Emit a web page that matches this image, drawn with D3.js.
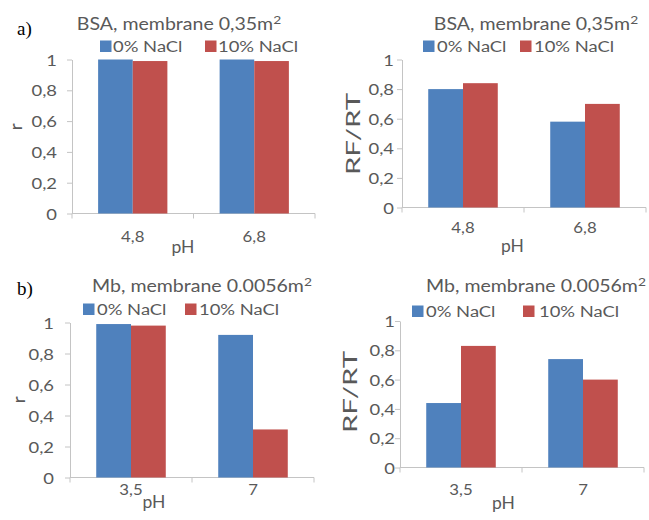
<!DOCTYPE html>
<html><head><meta charset="utf-8">
<script src="https://cdnjs.cloudflare.com/ajax/libs/d3/7.8.5/d3.min.js"></script>
<style>
body{margin:0;background:#fff;}
svg{display:block;}
text{font-family:Lato,"Open Sans",sans-serif;fill:#595959;}
</style></head>
<body>
<svg id="chart" width="649" height="520"></svg>
<script>
// ---------- data ----------
const seriesNames = ["0% NaCl", "10% NaCl"];
const categoriesA = ["4,8", "6,8"];
const categoriesB = ["3,5", "7"];
const yTicks = [0, 0.2, 0.4, 0.6, 0.8, 1];
const yTickLabels = ["0", "0,2", "0,4", "0,6", "0,8", "1"];

const rA_0 = [1.0, 1.0];
const rA_10 = [0.99, 0.99];
const rfA_0 = [0.80, 0.58];
const rfA_10 = [0.84, 0.70];
const rB_0 = [0.99, 0.92];
const rB_10 = [0.98, 0.31];
const rfB_0 = [0.44, 0.74];
const rfB_10 = [0.83, 0.60];

const titleA = "BSA, membrane 0,35m";
const titleB = "Mb, membrane 0.0056m";
const colors = ["#4F81BD", "#C0504D"];

// ---------- layout ----------
const panels = [
  {cats: categoriesA, s0: rA_0, s1: rA_10, title: titleA, ylab: "r",
   x0: 72, x1: 315, yb: 213.5, yt: 59.5, tickRight: 57,
   titleX: 179, titleY: 30, legY: 52, leg: [[100, 113], [205, 218]],
   catY: 242, phX: 183, phY: 253, ylabX: 22, ylabY: 127},
  {cats: categoriesA, s0: rfA_0, s1: rfA_10, title: titleA, ylab: "RF/RT",
   x0: 402, x1: 646, yb: 207.5, yt: 59.5, tickRight: 394,
   titleX: 536, titleY: 30, legY: 52, leg: [[423, 437], [520, 534]],
   catY: 233, phX: 512.5, phY: 252, ylabX: 360, ylabY: 134},
  {cats: categoriesB, s0: rB_0, s1: rB_10, title: titleB, ylab: "r",
   x0: 70, x1: 314, yb: 477.5, yt: 322.5, tickRight: 54,
   titleX: 202, titleY: 292, legY: 315, leg: [[83, 97], [185, 199]],
   catY: 495, phX: 154, phY: 508, ylabX: 25, ylabY: 400},
  {cats: categoriesB, s0: rfB_0, s1: rfB_10, title: titleB, ylab: "RF/RT",
   x0: 400, x1: 644, yb: 467.5, yt: 321, tickRight: 395,
   titleX: 536, titleY: 292, legY: 317, leg: [[412, 426], [523, 539]],
   catY: 495, phX: 503.5, phY: 509, ylabX: 357, ylabY: 392}
];

const svg = d3.select("#chart");

function txt(g, x, y, s, size, anchor, sx, rot) {
  return g.append("text")
    .attr("transform", `translate(${x},${y})${rot ? " rotate(" + rot + ")" : ""} scale(${sx},1)`)
    .attr("text-anchor", anchor).style("font-size", size + "px").text(s);
}

panels.forEach(p => {
  const g = svg.append("g");
  const x = d3.scaleBand().domain(p.cats).range([p.x0, p.x1]).paddingInner(0.43).paddingOuter(0.215);
  const xs = d3.scaleBand().domain([0, 1]).range([0, x.bandwidth()]);
  const y = d3.scaleLinear().domain([0, 1]).range([p.yb, p.yt]);

  // y axis
  const yAxis = d3.axisLeft(y).tickValues(yTicks).tickFormat((d, i) => yTickLabels[i])
    .tickSize(5).tickSizeOuter(0);
  const ya = g.append("g").attr("transform", `translate(${p.x0},0)`).call(yAxis);
  ya.select(".domain").attr("stroke", "#c4c4c4");
  ya.selectAll(".tick line").attr("stroke", "#c4c4c4");
  ya.selectAll(".tick text")
    .attr("x", null).attr("dy", null)
    .attr("transform", `translate(${p.tickRight - p.x0},5.5) scale(1.15,1)`)
    .style("font-family", "Lato").style("font-size", "16px").attr("fill", "#595959");

  // x axis line with boundary ticks
  const bounds = d3.range(p.cats.length + 1).map(i => p.x0 + i * (p.x1 - p.x0) / p.cats.length);
  g.append("line").attr("x1", p.x0).attr("x2", p.x1).attr("y1", y(0)).attr("y2", y(0)).attr("stroke", "#c4c4c4");
  g.selectAll(".xt").data(bounds).join("line").attr("class", "xt")
    .attr("x1", d => d).attr("x2", d => d).attr("y1", y(0)).attr("y2", y(0) + 5).attr("stroke", "#c4c4c4");

  // bars
  [p.s0, p.s1].forEach((vals, si) => {
    g.selectAll(".b" + si).data(p.cats).join("rect").attr("class", "b" + si)
      .attr("x", c => x(c) + xs(si)).attr("width", xs.bandwidth())
      .attr("y", (c, i) => y(vals[i])).attr("height", (c, i) => y(0) - y(vals[i]))
      .attr("fill", colors[si]);
  });

  // category labels
  p.cats.forEach(c => txt(g, x(c) + x.bandwidth() / 2, p.catY, c, 16, "middle", 1.05));
  txt(g, p.phX, p.phY, "pH", 17, "middle", 1.03);

  // y label
  if (p.ylab.length > 1) txt(g, p.ylabX, p.ylabY, p.ylab, 19, "middle", 1.55, -90);
  else txt(g, p.ylabX, p.ylabY, p.ylab, 18, "middle", 1.1, -90);

  // title
  const t = txt(g, p.titleX, p.titleY, null, 17, "middle", 1.15);
  t.append("tspan").text(p.title);
  t.append("tspan").attr("dy", -6).style("font-size", "12px").text("2");

  // legend
  seriesNames.forEach((nm, si) => {
    g.append("rect").attr("x", p.leg[si][0]).attr("y", p.legY - 11.5).attr("width", 11.5).attr("height", 11.5).attr("fill", colors[si]);
    txt(g, p.leg[si][1], p.legY, nm, 16, "start", 1.15);
  });
});

// panel letters
svg.append("text").attr("x", 17).attr("y", 35).style("font-family", "'Liberation Serif',serif").style("font-size", "19px").style("fill", "#000").text("a)");
svg.append("text").attr("x", 17).attr("y", 295).style("font-family", "'Liberation Serif',serif").style("font-size", "19px").style("fill", "#000").text("b)");
</script>
</body></html>
